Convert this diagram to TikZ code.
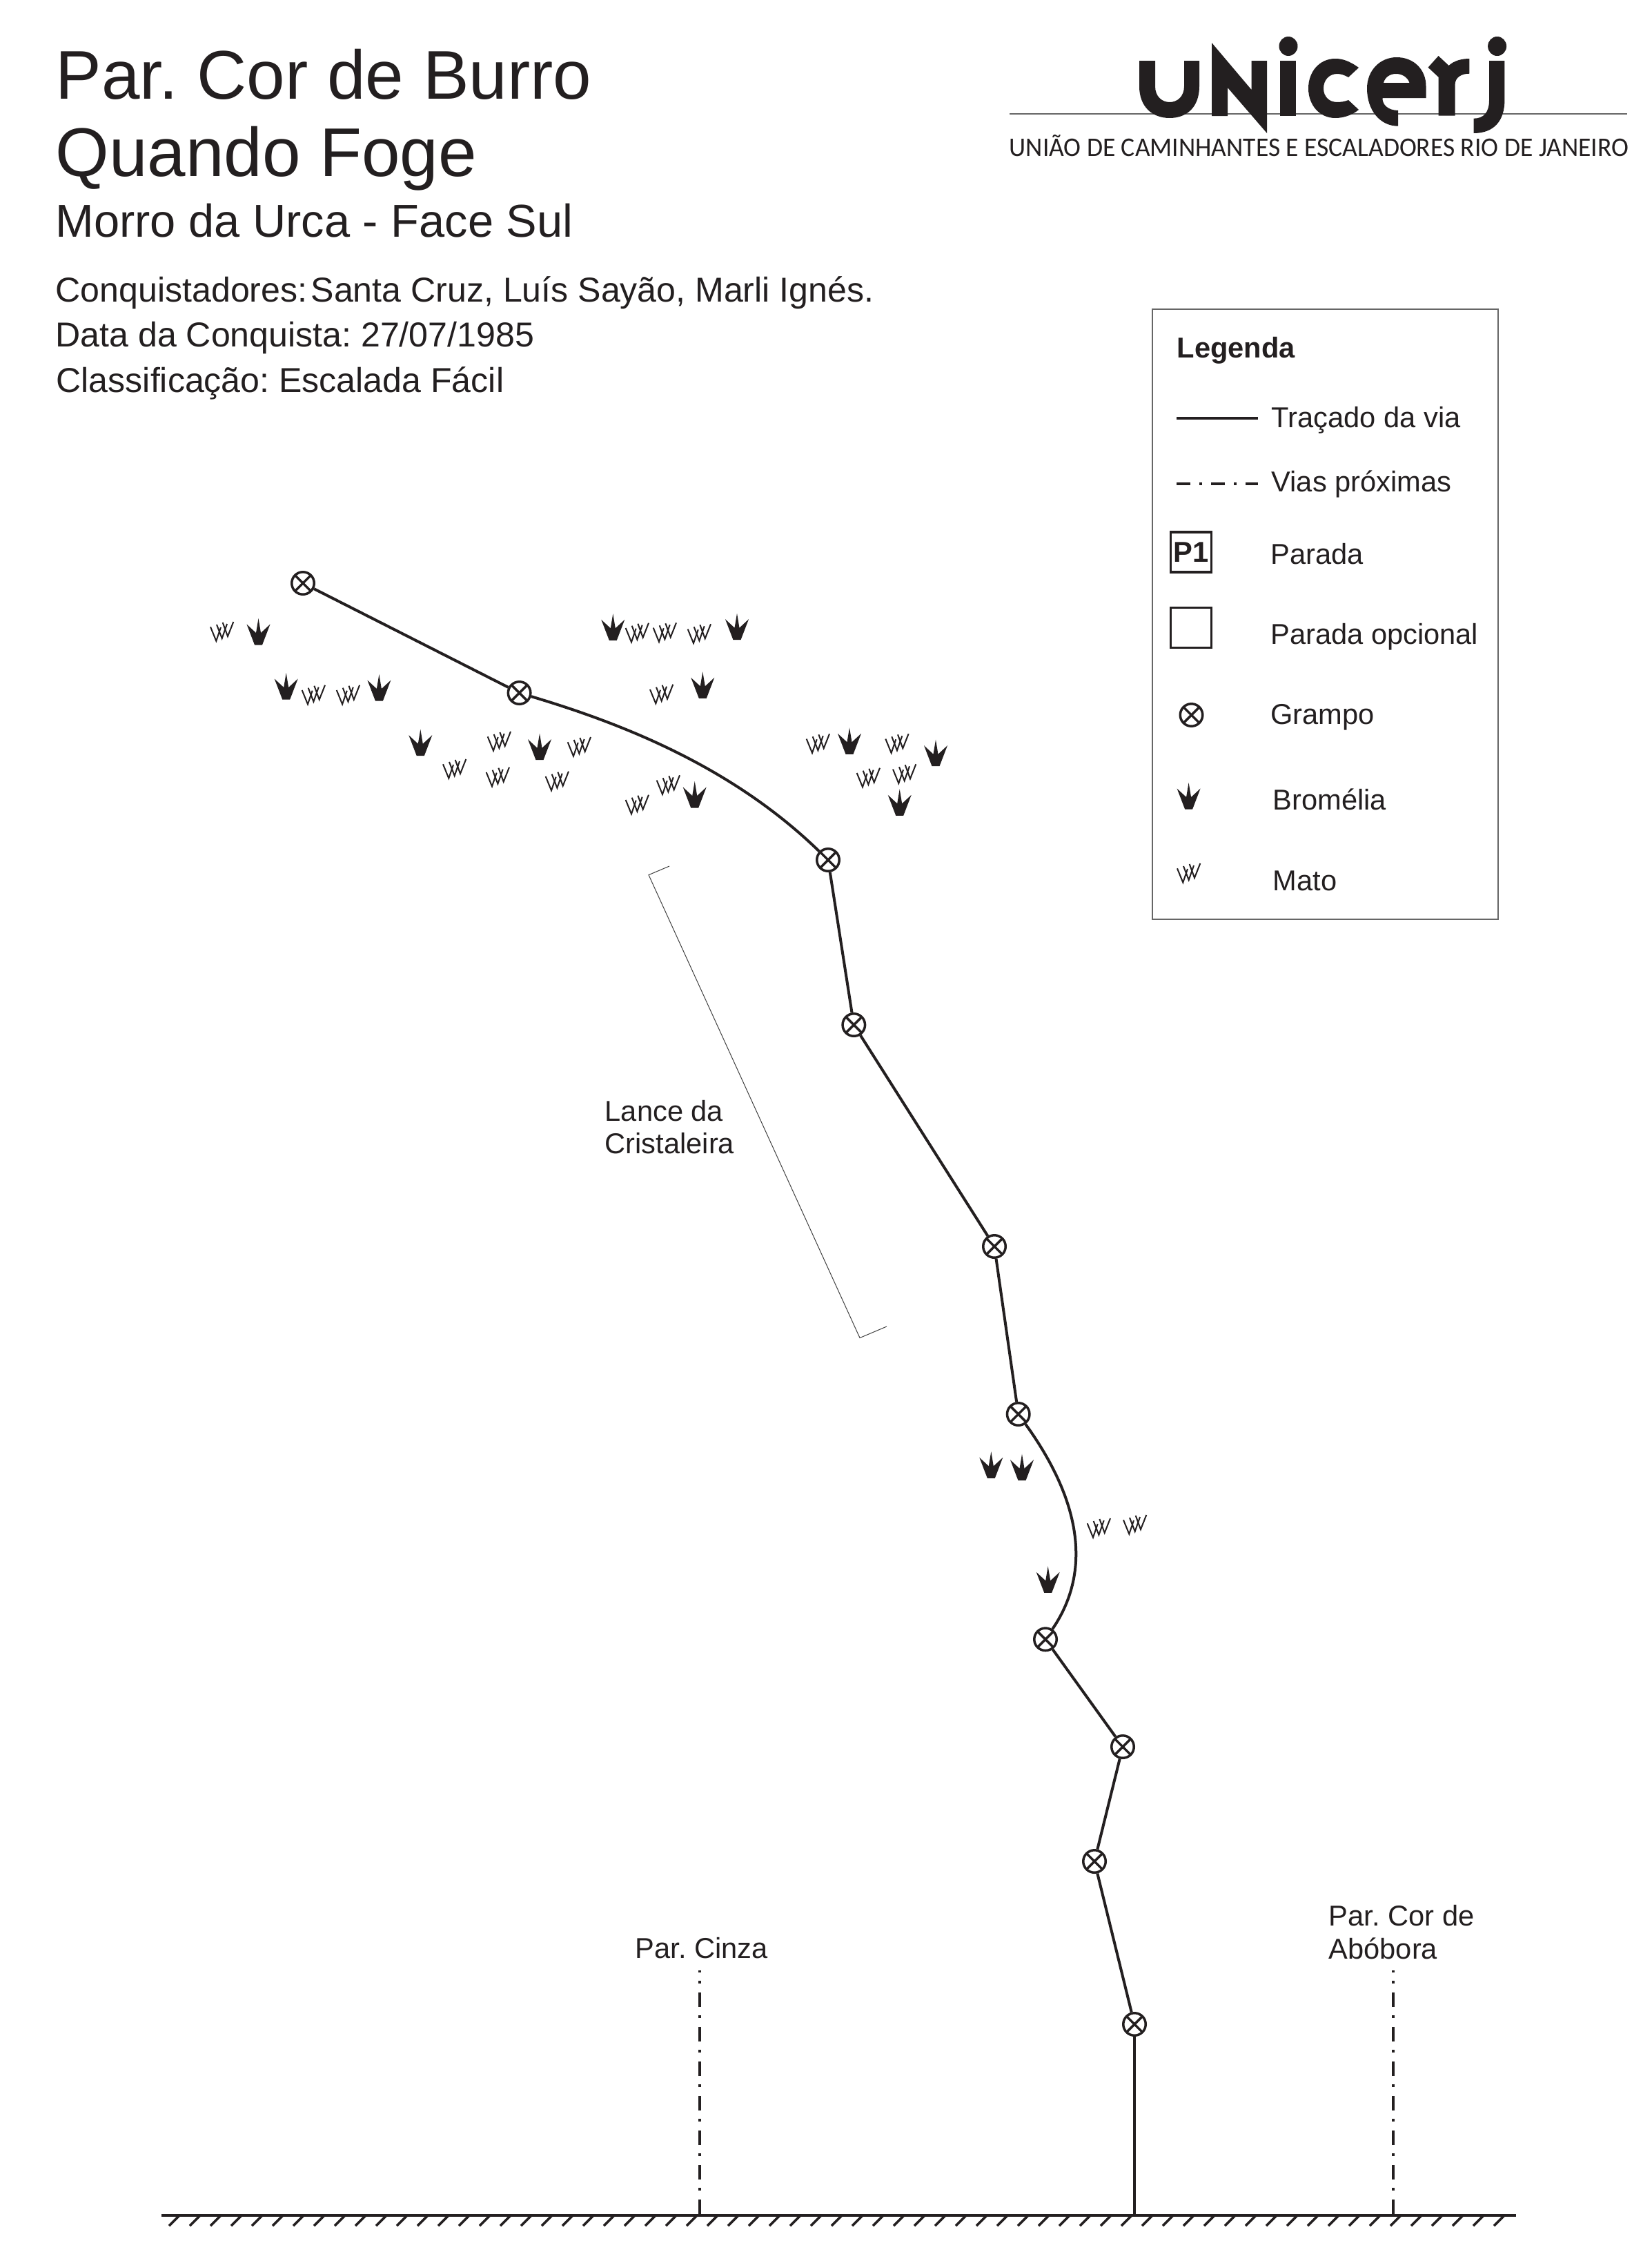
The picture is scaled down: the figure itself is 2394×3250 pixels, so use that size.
\documentclass[tikz,border=0pt]{standalone}
\usepackage{fontspec}
\setmainfont{Liberation Sans}
\newfontfamily\logofont[FakeStretch=0.962]{Carlito}
\definecolor{tinta}{HTML}{231F20}
\frenchspacing
\begin{document}
\begin{tikzpicture}[
    x=0.1mm, y=-0.1mm,
    texto/.style={anchor=base west, inner sep=0pt, text=tinta, font=\fontsize{11.85}{13.4}\selectfont},
    textoinfo/.style={texto, font=\fontsize{14.25}{16}\selectfont},
    titulo/.style={texto, font=\fontsize{28.4}{30}\selectfont},
    grampo/.style={circle, draw=tinta, line width=0.35mm, minimum size=3.25mm, inner sep=0pt,
        path picture={
            \draw[tinta, line width=0.35mm] (path picture bounding box.north west) -- (path picture bounding box.south east);
            \draw[tinta, line width=0.35mm] (path picture bounding box.north east) -- (path picture bounding box.south west);
        }},
    via/.style={tinta, line width=0.4mm},
    viaprox/.style={tinta, line width=0.38mm, dash pattern=on 2.1mm off 1.3mm on 0.4mm off 1.2mm},
    parada/.style={draw=tinta, line width=0.35mm, minimum width=5.9mm, minimum height=5.8mm, inner sep=0pt, text=tinta,
        font=\fontsize{11.85}{13.4}\selectfont\bfseries},
    bromelia/.pic={
        \fill[tinta] (0,0) -- (2,12) -- (3.5,21) -- (17,8.5) -- (5.5,38.5) -- (-5.5,38.5) -- (-17,8.5) -- (-3.5,21) -- (-2,12) -- cycle;
    },
    mato/.pic={
        \draw[tinta, line width=0.2mm] (0,7.3) -- (8.3,27.7) -- (15,8);
        \draw[tinta, line width=0.2mm] (9,4) -- (16.7,24) -- (24,3);
        \draw[tinta, line width=0.2mm] (17.7,1) -- (25,21) -- (33.3,0);
    }
]

    \useasboundingbox (0,0) rectangle (2394,3250);

    % Titulo
    \node[titulo] (titulo1) at (80,143) {Par. Cor de Burro};
    \node[titulo] (titulo2) at (80,255) {Quando Foge};
    \node[texto, font=\fontsize{19}{21}\selectfont] (local) at (80,343) {Morro da Urca - Face Sul};
    \node[textoinfo] (conq) at (80,437.5) {Conquistadores:};
    \node[textoinfo] (nomes) at (450,437.5) {Santa Cruz, Luís Sayão, Marli Ignés.};
    \node[textoinfo] (data) at (80,502) {Data da Conquista: 27/07/1985};
    \node[textoinfo] (classif) at (81,568) {Classificação: Escalada Fácil};

    % Logo
    \draw[black!60, line width=0.2mm] (1463,165) -- (2358,165);
    \fill[tinta] (1651,88) -- (1674,88) -- (1674,125) .. controls (1674,140) and (1684,148) .. (1695,148) .. controls (1706,148) and (1716,140) .. (1716,125) -- (1716,88) -- (1738,88) -- (1738,125) .. controls (1738,155) and (1720,171) .. (1695,171) .. controls (1670,171) and (1651,155) .. (1651,125) -- cycle;
    \fill[tinta] (1756,62) -- (1813.5,130) -- (1813.5,88) -- (1836,88) -- (1836,193) -- (1779,127) -- (1779,168) -- (1756,168) -- cycle;
    \fill[tinta] (1855,88) rectangle (1878,168);
    \fill[tinta] (1867,67) ellipse [x radius=13.5, y radius=14];
    \fill[tinta] (1969,98) .. controls (1955,88) and (1945,85) .. (1935,85) .. controls (1912,85) and (1896,104) .. (1896,128) .. controls (1896,152) and (1912,171) .. (1935,171) .. controls (1945,171) and (1958,168) .. (1969,159) -- (1954,145) .. controls (1949,147) and (1943,148) .. (1938,148) .. controls (1926,148) and (1918,140) .. (1918,128) .. controls (1918,116) and (1926,107) .. (1938,107) .. controls (1943,107) and (1949,109) .. (1954,112) -- cycle;
    \fill[tinta, even odd rule] (2066.5,142) -- (2066.5,125) .. controls (2066.5,100) and (2048,83) .. (2024,83) .. controls (2000,83) and (1981,102) .. (1981,128) .. controls (1981,160) and (2000,182.7) .. (2026,182.7) -- (2026,160) .. controls (2012,160) and (2003,152) .. (2003.5,142) -- cycle
        (2005,120) .. controls (2007,112) and (2014,107) .. (2023,107) .. controls (2032,107) and (2040,112) .. (2042.5,120) -- cycle;
    \fill[tinta] (2069.5,97.7) -- (2084.5,81) -- (2099.5,95) .. controls (2107,88) and (2118,85) .. (2129.4,85) -- (2129.4,106.7) .. controls (2118,106.7) and (2108.5,112) .. (2108.5,123) -- (2108.5,167.7) -- (2084.5,167.7) -- (2084.5,111.7) -- cycle;
    \fill[tinta] (2158,88) -- (2180.4,88) -- (2180.4,145) .. controls (2180.4,175) and (2165,193) .. (2135.5,193) -- (2135.5,171.7) .. controls (2150,171.7) and (2158,163) .. (2158,145) -- cycle;
    \fill[tinta] (2169.6,67) ellipse [x radius=13.5, y radius=14];
    \node[texto, font=\fontsize{11.1}{13}\logofont] (unicerj) at (1462,226.7) {UNIÃO DE CAMINHANTES E ESCALADORES RIO DE JANEIRO};

    % Legenda
    \draw[black!60, line width=0.2mm] (1670,448) rectangle (2171,1331.5);
    \node[texto, font=\fontsize{11.85}{13.4}\selectfont\bfseries] (legenda) at (1705,518.3) {Legenda};
    \coordinate (leg1a) at (1705,606);
    \coordinate (leg1b) at (1822.7,606);
    \coordinate (leg2a) at (1705,701);
    \coordinate (leg2b) at (1822.7,701);
    \draw[via, line width=0.33mm] (leg1a) -- (leg1b);
    \draw[viaprox, line width=0.33mm, dash pattern=on 2mm off 1.3mm on 0.4mm off 1.3mm] (leg2a) -- (leg2b);
    \node[texto] (legvia) at (1842,619) {Traçado da via};
    \node[texto] (legprox) at (1842,712) {Vias próximas};
    \node[parada] (p1) at (1725.8,800) {P1};
    \node[parada] (p2) at (1725.8,909.5) {};
    \node[grampo] (leggrampo) at (1726.5,1036) {};
    \pic at (1722.6,1134) {bromelia};
    \pic at (1706,1251) {mato};
    \node[texto] (legp1) at (1840.5,817) {Parada};
    \node[texto] (legp2) at (1840.5,933) {Parada opcional};
    \node[texto] (leggr) at (1840.5,1049) {Grampo};
    \node[texto] (legbr) at (1844,1173) {Bromélia};
    \node[texto] (legma) at (1844,1290) {Mato};

    % Grampos da via
    \node[grampo] (g1) at (439,845) {};
    \node[grampo] (g2) at (752.6,1004) {};
    \node[grampo] (g3) at (1200,1246) {};
    \node[grampo] (g4) at (1237.3,1485) {};
    \node[grampo] (g5) at (1441,1806) {};
    \node[grampo] (g6) at (1475.7,2049) {};
    \node[grampo] (g7) at (1515,2375.3) {};
    \node[grampo] (g8) at (1627,2531) {};
    \node[grampo] (g9) at (1586,2697) {};
    \node[grampo] (g10) at (1644,2933) {};
    \coordinate (chaovia) at (1644,3210);

    % Tracado
    \draw[via] (g1) -- (g2);
    \draw[via] (g2) .. controls (900,1048) and (1060,1110) .. (g3);
    \draw[via] (g3) -- (g4);
    \draw[via] (g4) -- (g5);
    \draw[via] (g5) -- (g6);
    \draw[via] (g6) .. controls (1570,2180) and (1580,2280) .. (g7);
    \draw[via] (g7) -- (g8);
    \draw[via] (g8) -- (g9);
    \draw[via] (g9) -- (g10);
    \draw[via] (g10) -- (chaovia);

    % Bromelias e mato
    \foreach \x/\y in {374.5/896, 414.7/975, 549.4/977, 609.3/1056.7, 782/1062.7, 888.3/889.3, 1068/888.7, 1018.3/973.3, 1006.7/1132, 1231/1054.3, 1356/1071.7, 1303.7/1143.3, 1436.3/2103.3, 1481/2106.7, 1518.7/2269.3}
        \pic at (\x,\y) {bromelia};
    \foreach \x/\y in {305/901, 437.7/992.7, 487.8/992.7, 706.7/1060, 642/1100, 704.7/1111.7, 822.7/1068, 790.7/1117.7, 906.7/1151.7, 951.7/1123.3, 906.7/902.7, 946.7/902.3, 996.7/904.3, 942/991.7, 1168.7/1063.3, 1283.3/1063.3, 1241.7/1112.7, 1294/1107.3, 1575.7/2200, 1628/2195}
        \pic at (\x,\y) {mato};

    % Lance da Cristaleira
    \draw[black!75, line width=0.1mm] (970,1255) -- (940,1267.7) -- (1246,1938.5) -- (1285,1922);
    \node[texto, align=left] (lance) at (876,1671.5) {Lance da\\Cristaleira};

    % Vias proximas
    \node[texto] (cinza) at (920,2837.3) {Par. Cinza};
    \node[texto, align=left] (abobora) at (1925,2838) {Par. Cor de\\Abóbora};
    \coordinate (cinzatopo) at (1014,2855);
    \coordinate (cinzachao) at (1014,3208);
    \coordinate (abotopo) at (2019,2855);
    \coordinate (abochao) at (2019,3208);
    \draw[viaprox] (cinzachao) -- (cinzatopo);
    \draw[viaprox] (abochao) -- (abotopo);

    % Chao
    \coordinate (chaoa) at (234,3210);
    \coordinate (chaob) at (2197,3210);
    \draw[tinta, line width=0.4mm] (chaoa) -- (chaob);
    \foreach \x in {260,290,...,2180}
        \draw[tinta, line width=0.35mm] (\x,3210) -- ++(-15,15);

\end{tikzpicture}
\end{document}
